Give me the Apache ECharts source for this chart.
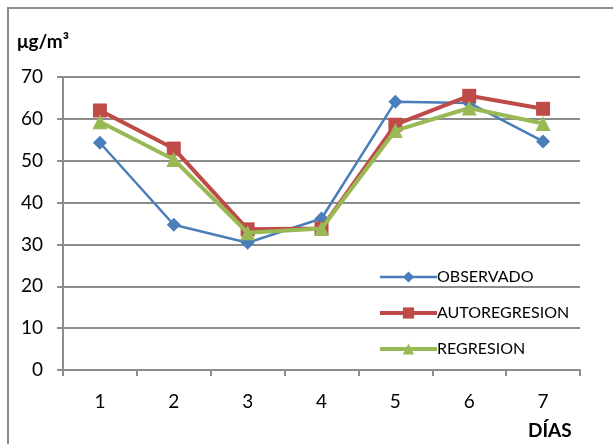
<!DOCTYPE html>
<html><head><meta charset="utf-8">
<script src="https://cdn.jsdelivr.net/npm/echarts@6/dist/echarts.min.js"></script>
<style>html,body{margin:0;padding:0;background:#fff}#c{width:613px;height:444px}</style>
</head><body><div id="c"></div>
<script>
var categories = ['1','2','3','4','5','6','7'];
var observado = [54.3, 34.7, 30.4, 36.2, 64.1, 63.8, 54.6];
var autoregresion = [62.0, 52.9, 33.6, 33.8, 58.6, 65.5, 62.4];
var regresion = [59.3, 50.3, 32.8, 33.8, 57.2, 62.6, 58.9];
var yTicks = [0, 10, 20, 30, 40, 50, 60, 70];

var FONT = 'Lato, "Open Sans", sans-serif';
var chart = echarts.init(document.getElementById('c'));
chart.setOption({
  animation: false,
  backgroundColor: '#fff',
  textStyle: { fontFamily: FONT },
  graphic: [{
    type: 'polyline', shape: { points: [[8, 444], [8, 8], [613, 8]] },
    style: { stroke: '#8c8c8c', lineWidth: 2, fill: null }, silent: true
  }, {
    type: 'text', left: 17, top: 32,
    style: { text: 'μg/m³', font: 'bold 19px ' + FONT, fill: '#000' }
  }, {
    type: 'text', left: 528, top: 421,
    style: { text: 'DÍAS', font: 'bold 19px ' + FONT, fill: '#000' }
  }],
  grid: { left: 63, right: 33, top: 77, bottom: 74, outerBoundsMode: 'none', containLabel: false },
  legend: {
    orient: 'vertical', left: 373, top: 264, itemGap: 20,
    itemWidth: 57, itemHeight: 14,
    textStyle: { fontSize: 16, color: '#000', fontFamily: FONT, padding: [0, 0, 0, -5] },
    data: [
      { name: 'OBSERVADO', lineStyle: { width: 2.5 } },
      { name: 'AUTOREGRESION', lineStyle: { width: 4 } },
      { name: 'REGRESION', lineStyle: { width: 4 } }
    ]
  },
  xAxis: {
    type: 'category', data: categories, boundaryGap: true,
    axisLine: { lineStyle: { color: '#8c8c8c', width: 2 } },
    axisTick: { show: true, alignWithLabel: false, length: 6, lineStyle: { color: '#8c8c8c', width: 2 } },
    axisLabel: { fontSize: 19, color: '#000', margin: 22, fontFamily: FONT }
  },
  yAxis: {
    type: 'value', min: 0, max: 70, interval: 10,
    axisLine: { show: true, lineStyle: { color: '#8c8c8c', width: 2 } },
    axisTick: { show: true, length: 6, lineStyle: { color: '#8c8c8c', width: 2 } },
    axisLabel: { fontSize: 19, color: '#000', margin: 20, fontFamily: FONT,
      formatter: function (v) { return yTicks.indexOf(v) >= 0 ? String(v) : ''; } },
    splitLine: { lineStyle: { color: '#8c8c8c', width: 2 } }
  },
  series: [{
    name: 'OBSERVADO', type: 'line', data: observado,
    symbol: 'diamond', symbolSize: 14,
    lineStyle: { color: '#4a7ebb', width: 2.5 },
    itemStyle: { color: '#4a7ebb' }, z: 2
  }, {
    name: 'AUTOREGRESION', type: 'line', data: autoregresion,
    symbol: 'rect', symbolSize: 14,
    lineStyle: { color: '#be4b48', width: 4 },
    itemStyle: { color: '#be4b48' }, z: 3
  }, {
    name: 'REGRESION', type: 'line', data: regresion,
    symbol: 'triangle', symbolSize: 15,
    lineStyle: { color: '#98b954', width: 4 },
    itemStyle: { color: '#98b954' }, z: 4
  }]
});
</script></body></html>
